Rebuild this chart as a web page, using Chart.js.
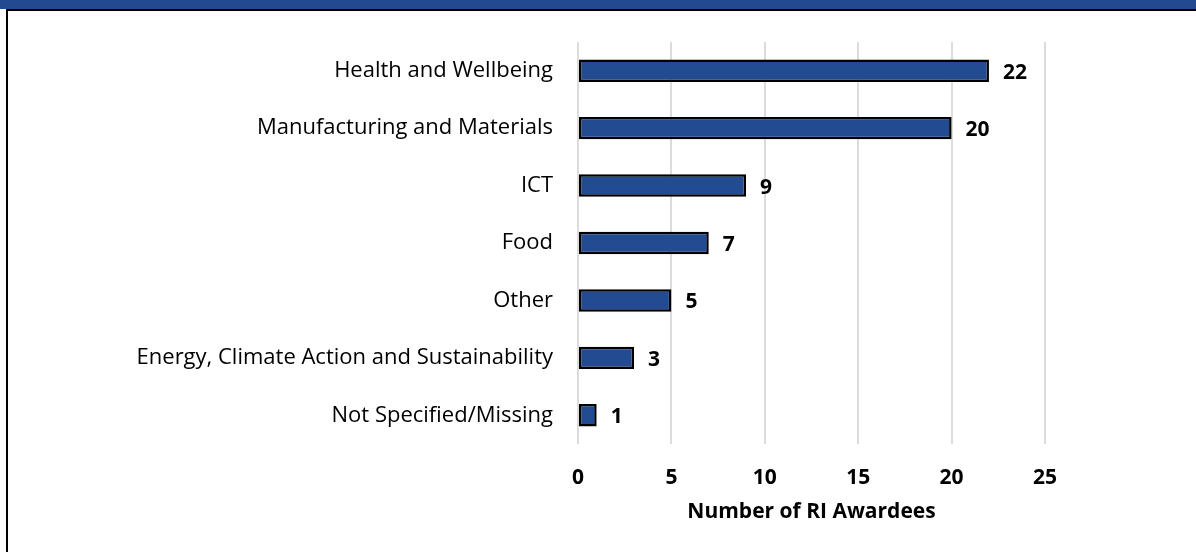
<!DOCTYPE html>
<html>
<head>
<meta charset="utf-8">
<script src="https://cdn.jsdelivr.net/npm/chart.js@4.4.1/dist/chart.umd.min.js"></script>
<style>
    html, body { margin: 0; padding: 0; background: #fff; }
    .frame { position: relative; width: 1196px; height: 552px; overflow: hidden; }
    .band { position: absolute; left: 0; top: 0; width: 1196px; height: 9px; background: #234a90; }
    .band-line { position: absolute; left: 6px; top: 9px; width: 1190px; height: 2px; background: #000; }
    .side-line { position: absolute; left: 6px; top: 9px; width: 2px; height: 543px; background: #000; }
    canvas { position: absolute; left: 0; top: 0; }
</style>
</head>
<body>
<div class="frame">
    <canvas id="awardChart" width="1196" height="552"></canvas>
    <div class="band"></div>
    <div class="band-line"></div>
    <div class="side-line"></div>
</div>
<script>
const categories = [
    'Health and Wellbeing',
    'Manufacturing and Materials',
    'ICT',
    'Food',
    'Other',
    'Energy, Climate Action and Sustainability',
    'Not Specified/Missing'
];
const awardees = [22, 20, 9, 7, 5, 3, 1];
const xTicks = [0, 5, 10, 15, 20, 25];

// value labels at the end of each bar
const barValues = {
    id: 'barValues',
    afterDatasetsDraw(chart) {
        const ctx = chart.ctx;
        const meta = chart.getDatasetMeta(0);
        ctx.save();
        ctx.font = 'bold 21px "Open Sans"';
        ctx.fillStyle = '#000';
        ctx.textAlign = 'left';
        ctx.textBaseline = 'middle';
        meta.data.forEach((bar, i) => {
            ctx.fillText(String(awardees[i]), bar.x + 14, bar.y + 2);
        });
        ctx.restore();
    }
};

const ctx = document.getElementById('awardChart').getContext('2d');
new Chart(ctx, {
    type: 'bar',
    data: {
        labels: categories,
        datasets: [{
            data: awardees,
            backgroundColor: '#234b91',
            borderColor: '#000',
            borderWidth: 2.5,
            borderSkipped: false,
            barPercentage: 0.78,
            categoryPercentage: 0.5
        }]
    },
    options: {
        indexAxis: 'y',
        responsive: false,
        animation: false,
        layout: { padding: { left: 20, right: 151, top: 42, bottom: 18 } },
        plugins: { legend: { display: false }, tooltip: { enabled: false } },
        scales: {
            x: {
                min: 0,
                max: 25,
                afterBuildTicks: axis => { axis.ticks = xTicks.map(v => ({ value: v })); },
                afterFit: axis => { axis.height = 90; },
                grid: { color: '#dcdcdc', lineWidth: 2, drawTicks: false },
                border: { display: false },
                ticks: {
                    padding: 21,
                    color: '#000',
                    font: { family: 'Open Sans', size: 21, weight: 'bold' }
                },
                title: {
                    display: true,
                    text: 'Number of RI Awardees',
                    color: '#000',
                    font: { family: 'Open Sans', size: 21, weight: 'bold' },
                    padding: { top: 10, bottom: 9 }
                }
            },
            y: {
                afterFit: axis => { axis.width = 558; },
                grid: { display: false, drawTicks: false },
                border: { display: false },
                ticks: {
                    padding: 25,
                    color: '#000',
                    font: { family: 'Open Sans', size: 22 }
                }
            }
        }
    },
    plugins: [barValues]
});
</script>
</body>
</html>
